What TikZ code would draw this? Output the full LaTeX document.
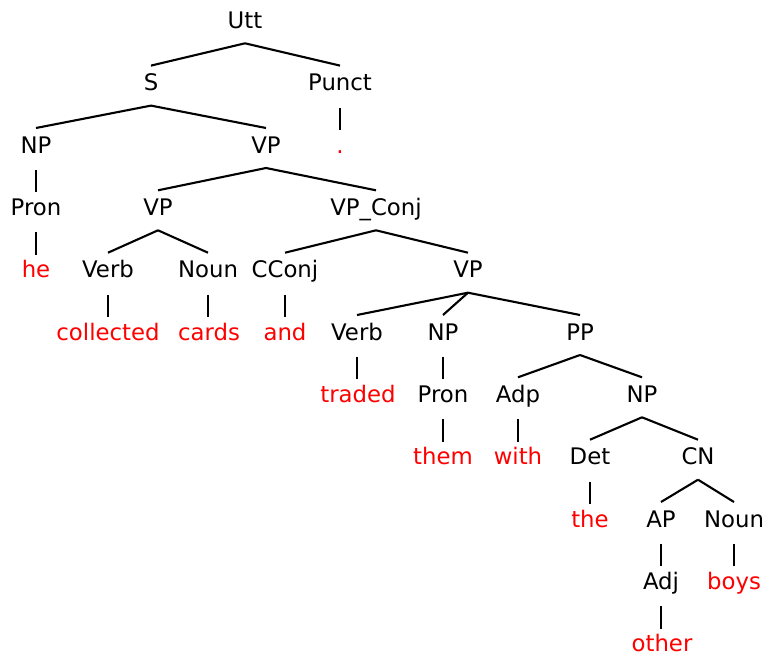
\documentclass[tikz,border=0pt]{standalone}
\usepackage{fontspec}
\setmainfont{DejaVu Sans}
\usetikzlibrary{calc}
\begin{document}
\begin{tikzpicture}[x=1pt,y=-1pt,
  every node/.style={font=\fontsize{22.8}{26}\selectfont, anchor=base, inner sep=0pt},
  cat/.style={text=black},
  word/.style={text=red},
  edge/.style={line width=2.1pt, black}]
\useasboundingbox (0,0) rectangle (776,667);
\newcommand\tedge[2]{\draw[edge] ($(#1.base)+(0,15)$) -- ($(#2.base)+(0,-25)$);}
\newcommand\vedge[2]{\draw[edge] ($(#1.base)+(0,17)$) -- ($(#1.base |- #2.base)+(0,-23)$);}
% row baselines: 28.3 + 62.34*i
\node[cat] (utt) at (245,28.3) {Utt};
\node[cat] (s) at (151,90.6) {S};
\node[cat] (punct) at (340,90.6) {Punct};
\node[cat] (np1) at (36,153) {NP};
\node[cat] (vp1) at (266,153) {VP};
\node[word] (dot) at (340,153) {.};
\node[cat] (pron1) at (36,215.3) {Pron};
\node[cat] (vp2) at (158,215.3) {VP};
\node[cat] (vpconj) at (376,215.3) {VP\_Conj};
\node[word] (he) at (36,277.7) {he};
\node[cat] (verb1) at (108,277.7) {Verb};
\node[cat] (noun1) at (208,277.7) {Noun};
\node[cat] (cconj) at (285,277.7) {CConj};
\node[cat] (vp3) at (468,277.7) {VP};
\node[word] (collected) at (108,340) {collected};
\node[word] (cards) at (209,340) {cards};
\node[word] (and) at (285,340) {and};
\node[cat] (verb2) at (357,340) {Verb};
\node[cat] (np2) at (443,340) {NP};
\node[cat] (pp) at (580,340) {PP};
\node[word] (traded) at (358,402.3) {traded};
\node[cat] (pron2) at (443,402.3) {Pron};
\node[cat] (adp) at (518,402.3) {Adp};
\node[cat] (np3) at (642,402.3) {NP};
\node[word] (them) at (443,464.7) {them};
\node[word] (with) at (518,464.7) {with};
\node[cat] (det) at (590,464.7) {Det};
\node[cat] (cn) at (698,464.7) {CN};
\node[word] (the) at (590,527) {the};
\node[cat] (ap) at (661,527) {AP};
\node[cat] (noun2) at (734,527) {Noun};
\node[cat] (adj) at (661,589.4) {Adj};
\node[word] (boys) at (734,589.4) {boys};
\node[word] (other) at (662,651.7) {other};
\tedge{utt}{s}
\tedge{utt}{punct}
\tedge{s}{np1}
\tedge{s}{vp1}
\vedge{punct}{dot}
\vedge{np1}{pron1}
\tedge{vp1}{vp2}
\tedge{vp1}{vpconj}
\vedge{pron1}{he}
\tedge{vp2}{verb1}
\tedge{vp2}{noun1}
\tedge{vpconj}{cconj}
\tedge{vpconj}{vp3}
\vedge{verb1}{collected}
\vedge{noun1}{cards}
\vedge{cconj}{and}
\tedge{vp3}{verb2}
\tedge{vp3}{np2}
\tedge{vp3}{pp}
\vedge{verb2}{traded}
\vedge{np2}{pron2}
\tedge{pp}{adp}
\tedge{pp}{np3}
\vedge{pron2}{them}
\vedge{adp}{with}
\tedge{np3}{det}
\tedge{np3}{cn}
\vedge{det}{the}
\tedge{cn}{ap}
\tedge{cn}{noun2}
\vedge{ap}{adj}
\vedge{noun2}{boys}
\vedge{adj}{other}
\end{tikzpicture}
\end{document}
